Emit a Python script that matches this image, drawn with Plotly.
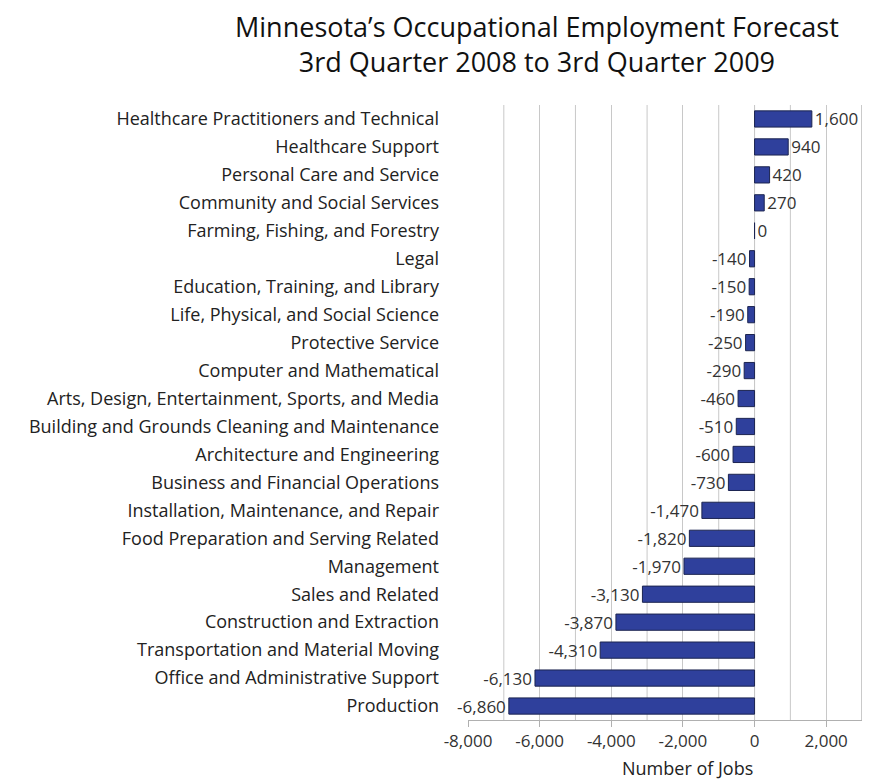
import plotly.graph_objects as go

categories = [
    "Healthcare Practitioners and Technical",
    "Healthcare Support",
    "Personal Care and Service",
    "Community and Social Services",
    "Farming, Fishing, and Forestry",
    "Legal",
    "Education, Training, and Library",
    "Life, Physical, and Social Science",
    "Protective Service",
    "Computer and Mathematical",
    "Arts, Design, Entertainment, Sports, and Media",
    "Building and Grounds Cleaning and Maintenance",
    "Architecture and Engineering",
    "Business and Financial Operations",
    "Installation, Maintenance, and Repair",
    "Food Preparation and Serving Related",
    "Management",
    "Sales and Related",
    "Construction and Extraction",
    "Transportation and Material Moving",
    "Office and Administrative Support",
    "Production",
]
values = [1600, 940, 420, 270, 0, -140, -150, -190, -250, -290, -460, -510,
          -600, -730, -1470, -1820, -1970, -3130, -3870, -4310, -6130, -6860]
tick_vals = [-8000, -6000, -4000, -2000, 0, 2000]
tick_text = ["-8,000", "-6,000", "-4,000", "-2,000", "0", "2,000"]

FONT = "Open Sans"
W, H = 873, 772
L, R, T, B = 460, 19, 97, 60
PW, PH = W - L - R, H - T - B

fig = go.Figure(go.Bar(
    x=values,
    y=categories,
    orientation="h",
    width=0.58,
    marker=dict(color="#2f409c", line=dict(color="#1c2450", width=1)),
    text=[f"{v:,}" for v in values],
    textposition="outside",
    constraintext="none",
    textfont=dict(family=FONT, size=17, color="#333333"),
    cliponaxis=False,
))

fig.update_layout(
    width=W, height=H,
    margin=dict(l=L, r=R, t=T, b=B, autoexpand=False),
    plot_bgcolor="white", paper_bgcolor="white",
    showlegend=False,
    font=dict(family=FONT, color="#222222"),
)

fig.update_xaxes(
    range=[-8000, 3000],
    tickvals=tick_vals, ticktext=tick_text,
    showgrid=True, gridcolor="#c8c8c8", gridwidth=1,
    showline=True, linecolor="#b0b0b0", linewidth=1,
    ticks="outside", ticklen=6, tickcolor="#b0b0b0",
    zeroline=False, automargin=False,
    tickfont=dict(family=FONT, size=17, color="#333333"),
)
fig.update_yaxes(
    autorange="reversed",
    showgrid=False, showline=False, zeroline=False,
    ticks="", ticklabelstandoff=28, automargin=False,
    tickfont=dict(family=FONT, size=18, color="#222222"),
)

for xv in range(-8000, 3001, 1000):
    if xv not in tick_vals:
        fig.add_vline(x=xv, line=dict(color="#c8c8c8", width=1), layer="below")
fig.add_vline(x=3000, line=dict(color="#b0b0b0", width=1), layer="below")
fig.add_vline(x=0, line=dict(color="#b0b0b0", width=1), layer="below")

fig.add_annotation(
    text="Minnesota’s Occupational Employment Forecast<br>3rd Quarter 2008 to 3rd Quarter 2009",
    xref="paper", yref="paper",
    x=(529 - L) / PW, y=1 + (T - 36) / PH,
    xanchor="center", yanchor="middle", showarrow=False, align="center",
    font=dict(family=FONT, size=27, color="#111111"),
)

fig.add_annotation(
    text="Number of Jobs", xref="paper", yref="paper",
    x=(679 - L) / PW, y=-(760 - (H - B)) / PH,
    xanchor="center", yanchor="middle", showarrow=False,
    font=dict(family=FONT, size=18, color="#222222"),
)

fig.write_html("out.html")
